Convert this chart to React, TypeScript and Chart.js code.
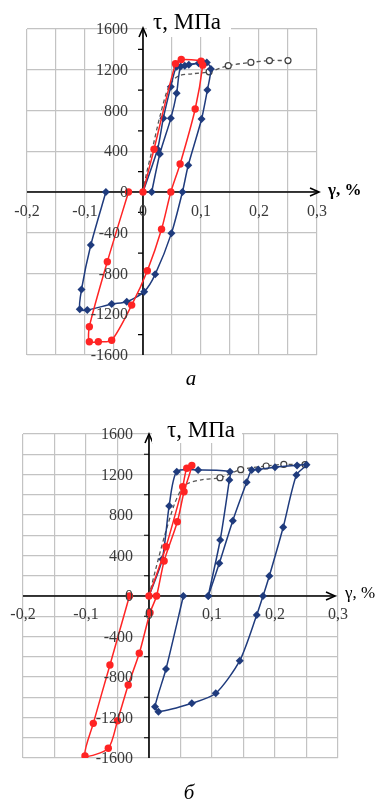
import React, { useEffect, useRef } from 'react';
import { Chart, registerables } from 'chart.js';

Chart.register(...registerables);

type P = [number, number];

// ---------- axis / tick data ----------
const xGridValues = [-0.2, -0.15, -0.1, -0.05, 0, 0.05, 0.1, 0.15, 0.2, 0.25, 0.3];
const xTickValues = [-0.2, -0.1, 0, 0.1, 0.2, 0.3];
const xTickLabels = ['-0,2', '-0,1', '0', '0,1', '0,2', '0,3'];
const yTickValues = [1600, 1200, 800, 400, 0, -400, -800, -1200, -1600];
const yTickLabels = ['1600', '1200', '800', '400', '0', '-400', '-800', '-1200', '-1600'];
const yGridA = [-1600, -1200, -800, -400, 0, 400, 800, 1200, 1600];
const yGridB = [-1600, -1400, -1200, -1000, -800, -600, -400, -200, 0, 200, 400, 600, 800, 1000, 1200, 1400, 1600];
const yMinorTicks = [-1400, -1000, -600, -200, 200, 600, 1000, 1400];
const titleText = 'τ, МПа';
const xAxisText = 'γ, %';

// ---------- chart (а) series ----------
const redA: P[] = [
  [0, 0], [0.019, 420], [0.056, 1260], [0.066, 1300], [0.1, 1285], [0.103, 1245],
  [0.09, 815], [0.064, 275], [0.048, 0], [0.032, -366], [0.0075, -773], [-0.0195, -1110],
  [-0.054, -1455], [-0.077, -1470], [-0.0925, -1470], [-0.0925, -1323], [-0.0615, -684], [-0.025, 0],
];
const blueA1: P[] = [
  [0, 0], [0.025, 419], [0.035, 723], [0.048, 1034], [0.058, 1230], [0.072, 1240],
  [0.096, 1265], [0.11, 1270], [0.117, 1208], [0.111, 1001], [0.101, 717], [0.078, 262],
  [0.068, 0], [0.049, -406], [0.021, -808], [0.002, -978], [-0.028, -1077], [-0.054, -1100],
  [-0.096, -1159], [-0.109, -1152], [-0.106, -956], [-0.09, -520], [-0.064, 0],
];
const blueA2: P[] = [
  [0.015, 0], [0.029, 373], [0.048, 723], [0.058, 969], [0.065, 1232], [0.079, 1250], [0.104, 1272],
];
const dashedA: P[] = [
  [0, 0], [0.006, 180], [0.016, 420], [0.03, 760], [0.045, 1040], [0.061, 1139], [0.085, 1160],
  [0.114, 1180], [0.147, 1240], [0.186, 1272], [0.218, 1290], [0.25, 1290],
];

// ---------- chart (б) series ----------
const redB: P[] = [
  [0, 0], [0.027, 487], [0.0535, 1080], [0.06, 1261], [0.068, 1290], [0.0556, 1030],
  [0.045, 734], [0.024, 346], [0.012, 0], [0.0016, -165], [-0.0154, -566], [-0.033, -879],
  [-0.05, -1232], [-0.0646, -1504], [-0.1016, -1580], [-0.0884, -1258], [-0.062, -681], [-0.031, 0],
];
const blueB1: P[] = [
  [0, 0], [0.021, 362], [0.032, 889], [0.044, 1228], [0.078, 1245], [0.1286, 1228],
  [0.1275, 1146], [0.113, 553], [0.094, 0],
];
const blueB2: P[] = [
  [0.094, 0], [0.1116, 323], [0.133, 744], [0.155, 1123], [0.163, 1245], [0.1735, 1250],
  [0.2, 1272], [0.235, 1290], [0.25, 1296], [0.234, 1195], [0.213, 679], [0.191, 198],
  [0.181, 0], [0.171, -188], [0.144, -639], [0.106, -961], [0.068, -1060], [0.015, -1143],
  [0.0095, -1093], [0.027, -721], [0.0545, 0],
];
const dashedB: P[] = [
  [0, 0], [0.01, 250], [0.025, 600], [0.04, 900], [0.052, 1060], [0.062, 1113], [0.085, 1150],
  [0.1127, 1168], [0.1455, 1248], [0.186, 1284], [0.214, 1300], [0.2476, 1298],
];

const RED = '#ff2424';
const BLUE = '#1f3b7d';
const GREY = '#555555';
const FONT = '"Liberation Serif", "Times New Roman", serif';

const toXY = (a: P[]) => a.map(([x, y]) => ({ x, y }));

function datasets(red: P[], blues: P[][], dashed: P[]) {
  return [
    {
      data: toXY(red), showLine: true, borderColor: RED, backgroundColor: RED, borderWidth: 1.5,
      pointStyle: 'circle', pointRadius: 3.7, pointBorderWidth: 0, tension: 0.25,
    },
    ...blues.map((b) => ({
      data: toXY(b), showLine: true, borderColor: BLUE, backgroundColor: BLUE, borderWidth: 1.5,
      pointStyle: 'rectRot', pointRadius: 4, pointBorderWidth: 0, tension: 0.25,
    })),
    {
      data: toXY(dashed), showLine: true, borderColor: GREY, borderWidth: 1.3, borderDash: [4, 3],
      backgroundColor: '#ffffff', pointBorderColor: '#404040', pointBorderWidth: 1.2,
      pointRadius: (c: any) => (c.raw && c.raw.x > 0.11 ? 3 : 0), tension: 0.3,
    },
  ];
}

type Cfg = {
  pad: { left: number; right: number; top: number; bottom: number };
  yGrid: number[];
  arrowX: number; arrowY: number;
  yLabelGap: number; xLabelGap: number;
  title: { x: number; baseline: number; box: [number, number, number, number] };
  gamma: { x: number; y: number; bold: boolean };
};

function axesPlugin(cfg: Cfg) {
  return {
    id: 'centerAxes',
    beforeDatasetsDraw(chart: any) {
      const { ctx, chartArea: a, scales } = chart;
      const x0 = scales.x.getPixelForValue(0);
      const y0 = scales.y.getPixelForValue(0);
      ctx.save();
      ctx.strokeStyle = '#000';
      ctx.lineWidth = 1.6;
      ctx.beginPath();
      ctx.moveTo(x0, a.bottom);
      ctx.lineTo(x0, cfg.arrowY);
      ctx.moveTo(a.left, y0);
      ctx.lineTo(cfg.arrowX, y0);
      ctx.stroke();
      ctx.beginPath();
      ctx.moveTo(x0 - 4, cfg.arrowY + 9);
      ctx.lineTo(x0, cfg.arrowY);
      ctx.lineTo(x0 + 4, cfg.arrowY + 9);
      ctx.moveTo(cfg.arrowX - 9, y0 - 4);
      ctx.lineTo(cfg.arrowX, y0);
      ctx.lineTo(cfg.arrowX - 9, y0 + 4);
      ctx.stroke();
      ctx.lineWidth = 1.2;
      ctx.beginPath();
      yMinorTicks.forEach((v) => {
        const py = scales.y.getPixelForValue(v);
        ctx.moveTo(x0 - 5, py);
        ctx.lineTo(x0, py);
      });
      ctx.stroke();
      ctx.restore();
    },
    afterDatasetsDraw(chart: any) {
      const { ctx, scales } = chart;
      const x0 = scales.x.getPixelForValue(0);
      const y0 = scales.y.getPixelForValue(0);
      ctx.save();
      ctx.fillStyle = '#3a3a3a';
      ctx.font = `16px ${FONT}`;
      ctx.textAlign = 'right';
      ctx.textBaseline = 'middle';
      yTickValues.forEach((v, i) => {
        ctx.fillText(yTickLabels[i], x0 - cfg.yLabelGap, scales.y.getPixelForValue(v) + 1);
      });
      ctx.textAlign = 'center';
      xTickValues.forEach((v, i) => {
        ctx.fillText(xTickLabels[i], scales.x.getPixelForValue(v), y0 + cfg.xLabelGap);
      });
      const [bx, by, bw, bh] = cfg.title.box;
      ctx.fillStyle = '#ffffff';
      ctx.fillRect(bx, by, bw, bh);
      ctx.fillStyle = '#000';
      ctx.font = `23px ${FONT}`;
      ctx.textAlign = 'left';
      ctx.textBaseline = 'alphabetic';
      ctx.fillText(titleText, cfg.title.x, cfg.title.baseline);
      ctx.font = `${cfg.gamma.bold ? 'bold ' : ''}17px ${FONT}`;
      ctx.textBaseline = 'middle';
      ctx.fillText(xAxisText, cfg.gamma.x, cfg.gamma.y);
      ctx.restore();
    },
  };
}

function makeChart(canvas: HTMLCanvasElement, ds: any[], cfg: Cfg) {
  const gridOpts = { color: '#c3c3c3', lineWidth: 1.2, drawTicks: false };
  return new Chart(canvas, {
    type: 'scatter',
    data: { datasets: ds },
    options: {
      animation: false,
      responsive: false,
      layout: { padding: cfg.pad },
      plugins: { legend: { display: false }, tooltip: { enabled: false } },
      scales: {
        x: {
          type: 'linear', min: -0.2, max: 0.3,
          ticks: { display: false },
          grid: gridOpts, border: { display: false },
          afterBuildTicks: (s: any) => { s.ticks = xGridValues.map((v) => ({ value: v })); },
        },
        y: {
          type: 'linear', min: -1600, max: 1600,
          ticks: { display: false },
          grid: gridOpts, border: { display: false },
          afterBuildTicks: (s: any) => { s.ticks = cfg.yGrid.map((v) => ({ value: v })); },
        },
      },
    } as any,
    plugins: [axesPlugin(cfg)],
  });
}

export default function App() {
  const refA = useRef<HTMLCanvasElement>(null);
  const refB = useRef<HTMLCanvasElement>(null);

  useEffect(() => {
    const a = makeChart(refA.current!, datasets(redA, [blueA1, blueA2], dashedA), {
      pad: { left: 27, right: 65, top: 29, bottom: 45 },
      yGrid: yGridA,
      arrowX: 319, arrowY: 28,
      yLabelGap: 15, xLabelGap: 20,
      title: { x: 153, baseline: 29, box: [147, 0, 84, 37] },
      gamma: { x: 328, y: 191, bold: true },
    });
    const b = makeChart(refB.current!, datasets(redB, [blueB1, blueB2], dashedB), {
      pad: { left: 23, right: 44, top: 34, bottom: 46 },
      yGrid: yGridB,
      arrowX: 335, arrowY: 34,
      yLabelGap: 16, xLabelGap: 19,
      title: { x: 167, baseline: 37, box: [152, 0, 90, 43] },
      gamma: { x: 345, y: 194, bold: false },
    });
    return () => { a.destroy(); b.destroy(); };
  }, []);

  return (
    <div style={{ position: 'fixed', left: 0, top: 0, width: 382, height: 804, background: '#fff', overflow: 'hidden' }}>
      <canvas ref={refA} width={382} height={400} style={{ position: 'absolute', left: 0, top: 0 }} />
      <canvas ref={refB} width={382} height={404} style={{ position: 'absolute', left: 0, top: 400 }} />
      <div style={{ position: 'absolute', left: 0, width: 382, top: 366, lineHeight: '24px', textAlign: 'center', fontFamily: FONT, fontStyle: 'italic', fontSize: 21 }}>а</div>
      <div style={{ position: 'absolute', left: 0, width: 378, top: 780, lineHeight: '24px', textAlign: 'center', fontFamily: FONT, fontStyle: 'italic', fontSize: 21 }}>б</div>
    </div>
  );
}
